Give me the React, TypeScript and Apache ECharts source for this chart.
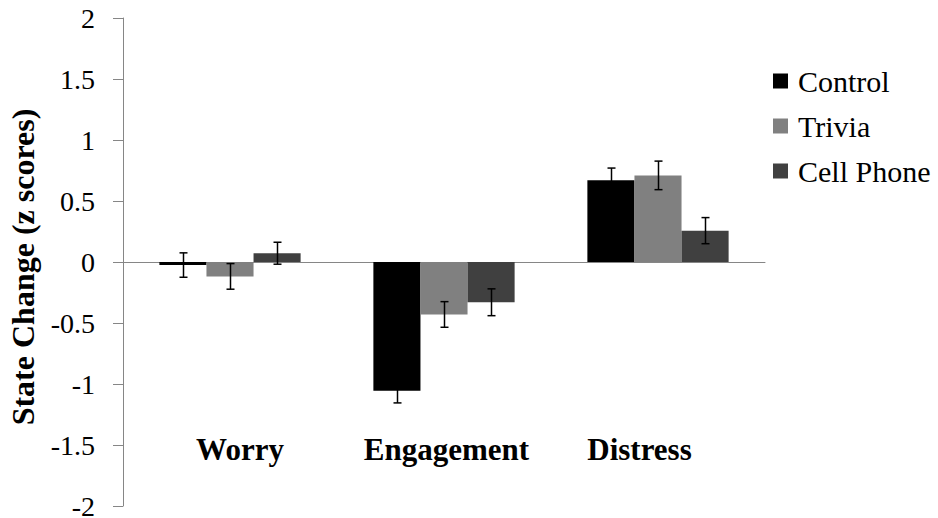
import React, { useEffect, useRef } from "react";
import * as echarts from "echarts";

const categories = ["Worry", "Engagement", "Distress"];
const seriesNames = ["Control", "Trivia", "Cell Phone"];
const controlValues = [-0.025, -1.055, 0.67];
const triviaValues = [-0.118, -0.43, 0.71];
const cellPhoneValues = [0.072, -0.33, 0.257];
const controlErrors = [0.1, 0.1, 0.1];
const triviaErrors = [0.105, 0.105, 0.117];
const cellPhoneErrors = [0.09, 0.11, 0.107];
const yTicks = [-2, -1.5, -1, -0.5, 0, 0.5, 1, 1.5, 2];

const colors = ["#000000", "#808080", "#404040"];
const CATEGORY_GAP = 0.34;
const FONT = "Liberation Serif";

export default function App() {
  const ref = useRef<HTMLDivElement>(null);
  useEffect(() => {
    if (!ref.current) return;
    const chart = echarts.init(ref.current, undefined, { renderer: "svg" });
    const values = [controlValues, triviaValues, cellPhoneValues];
    const errors = [controlErrors, triviaErrors, cellPhoneErrors];

    const barSeries = seriesNames.map((name, i) => ({
      name,
      type: "bar",
      data: values[i],
      barGap: "0%",
      barCategoryGap: `${CATEGORY_GAP * 100}%`,
      itemStyle: { color: colors[i] },
      z: 2,
    }));

    const errSeries = seriesNames.map((name, i) => ({
      name: name + " error",
      type: "custom",
      z: 5,
      silent: true,
      encode: { x: 0, y: [1, 2] },
      data: values[i].map((v, k) => [k, v - errors[i][k], v + errors[i][k]]),
      renderItem: (params: any, api: any) => {
        const x = api.value(0);
        const lo = api.value(1);
        const hi = api.value(2);
        const band = api.size([1, 0])[0];
        const barW = (band * (1 - CATEGORY_GAP)) / 3;
        const off = (i - 1) * barW;
        const pLo = api.coord([x, lo]);
        const pHi = api.coord([x, hi]);
        const cx = Math.round(pLo[0] + off) + 0.5;
        const cap = 4;
        const style = { stroke: "#000", lineWidth: 1.5 };
        return {
          type: "group",
          children: [
            { type: "line", shape: { x1: cx, y1: pLo[1], x2: cx, y2: pHi[1] }, style },
            { type: "line", shape: { x1: cx - cap, y1: pLo[1], x2: cx + cap, y2: pLo[1] }, style },
            { type: "line", shape: { x1: cx - cap, y1: pHi[1], x2: cx + cap, y2: pHi[1] }, style },
          ],
        };
      },
    }));

    const labelPads: Record<string, number[]> = {
      w: [0, 0, 0, 20],
      e: [0, 0, 0, 5],
      d: [0, 37, 0, 0],
    };
    const richStyle = (pad: number[]) => ({
      fontFamily: FONT,
      fontSize: 31,
      fontWeight: "bold",
      color: "#000",
      padding: pad,
    });

    chart.setOption({
      animation: false,
      grid: {
        left: 123,
        right: 173,
        top: 18,
        bottom: 12,
        containLabel: false,
        outerBoundsMode: "none",
      },
      legend: {
        orient: "vertical",
        left: 773,
        top: 66,
        itemWidth: 15,
        itemHeight: 15,
        itemGap: 15,
        icon: "rect",
        padding: 0,
        data: seriesNames,
        textStyle: { fontFamily: FONT, fontSize: 30, color: "#000", padding: [0, 0, 0, 5] },
      },
      xAxis: {
        type: "category",
        data: categories,
        axisLine: { onZero: true, lineStyle: { color: "#868686", width: 1 } },
        axisTick: { show: false },
        axisLabel: {
          margin: -57,
          verticalAlign: "middle",
          formatter: (v: string) => {
            const key = v === "Worry" ? "w" : v === "Engagement" ? "e" : "d";
            return `{${key}|${v}}`;
          },
          rich: {
            w: richStyle(labelPads.w),
            e: richStyle(labelPads.e),
            d: richStyle(labelPads.d),
          },
        },
        splitLine: { show: false },
      },
      yAxis: {
        type: "value",
        min: yTicks[0],
        max: yTicks[yTicks.length - 1],
        interval: 0.5,
        name: "State Change (z scores)",
        nameLocation: "middle",
        nameRotate: 90,
        nameGap: 84,
        nameTextStyle: {
          fontFamily: FONT,
          fontSize: 32,
          fontWeight: "bold",
          color: "#000",
          padding: [0, 10, 0, 0],
        },
        axisLine: { show: true, lineStyle: { color: "#868686", width: 1 } },
        axisTick: { show: true, inside: false, length: 10, lineStyle: { color: "#868686" } },
        axisLabel: {
          margin: 28,
          fontFamily: FONT,
          fontSize: 28,
          color: "#000",
          formatter: (v: number) => String(v),
        },
        splitLine: { show: false },
      },
      series: [...barSeries, ...errSeries],
    });
    return () => chart.dispose();
  }, []);
  return (
    <div
      ref={ref}
      style={{ position: "fixed", left: 0, top: 0, width: 938, height: 518, background: "#fff" }}
    />
  );
}
